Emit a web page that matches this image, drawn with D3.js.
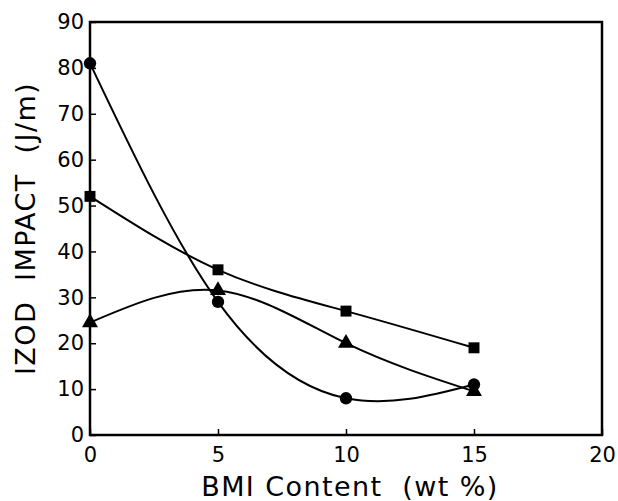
<!DOCTYPE html>
<html><head><meta charset="utf-8">
<script src="https://cdn.jsdelivr.net/npm/d3@7"></script>
<style>body{margin:0;background:#fff}svg{display:block}</style>
</head><body>
<svg id="c" width="618" height="501"></svg>
<script>
const bmi = [0, 5, 10, 15];
const circleSeries = [81, 29, 8, 11];
const squareSeries = [52, 36, 27, 19];
const triangleSeries = [24.5, 31.5, 20, 9.5];
const xTicks = [0, 5, 10, 15, 20];
const yTicks = [0, 10, 20, 30, 40, 50, 60, 70, 80, 90];
const xTitle = "BMI Content (wt %)";
const yTitle = "IZOD IMPACT (J/m)";

const svg = d3.select("#c");
const L = 90, R = 602, T = 22, B = 435;
const x = d3.scaleLinear().domain([0, 20]).range([L, R]);
const y = d3.scaleLinear().domain([0, 90]).range([B, T]);
const font = "DejaVu Sans, sans-serif";

// frame
svg.append("rect").attr("x", L).attr("y", T).attr("width", R - L).attr("height", B - T)
  .attr("fill", "none").attr("stroke", "#000").attr("stroke-width", 2.5);

// axes
const xAxis = svg.append("g").attr("transform", `translate(0,${B})`)
  .call(d3.axisBottom(x).tickValues(xTicks).tickSize(-6).tickPadding(12).tickFormat(d3.format("d")));
const yAxis = svg.append("g").attr("transform", `translate(${L},0)`)
  .call(d3.axisLeft(y).tickValues(yTicks).tickSize(-6).tickPadding(6).tickFormat(d3.format("d")));
[xAxis, yAxis].forEach(g => {
  g.select(".domain").remove();
  g.selectAll(".tick line").attr("stroke", "#000").attr("stroke-width", 1.5);
  g.selectAll(".tick text").attr("font-family", font).attr("font-size", 21).attr("fill", "#000");
});

// titles
svg.append("text").attr("x", (L + R) / 2 + 4).attr("y", 496).attr("text-anchor", "middle")
  .attr("font-family", font).attr("font-size", 27).attr("letter-spacing", 1.4).attr("fill", "#000")
  .style("white-space", "pre").text(xTitle.replace(" (", "  ("));
svg.append("text").attr("transform", `translate(35,${(T + B) / 2}) rotate(-90)`)
  .attr("text-anchor", "middle").attr("font-family", font).attr("font-size", 27).attr("letter-spacing", 1.4).attr("fill", "#000")
  .style("white-space", "pre").text(yTitle.replace("IZOD ", "IZOD  ").replace("T (", "T  ("));

const line = d3.line().x((d, i) => x(bmi[i])).y(d => y(d)).curve(d3.curveNatural);
const series = [
  {v: squareSeries, sym: d3.symbolSquare, size: 120},
  {v: triangleSeries, sym: d3.symbolTriangle, size: 110},
  {v: circleSeries, sym: d3.symbolCircle, size: 120}
];
series.forEach(s => {
  svg.append("path").attr("d", line(s.v)).attr("fill", "none").attr("stroke", "#000").attr("stroke-width", 2);
});
series.forEach(s => {
  svg.append("g").selectAll("path").data(s.v).join("path")
    .attr("transform", (d, i) => `translate(${x(bmi[i])},${y(d)})`)
    .attr("d", d3.symbol().type(s.sym).size(s.size)).attr("fill", "#000");
});
</script>
</body></html>
